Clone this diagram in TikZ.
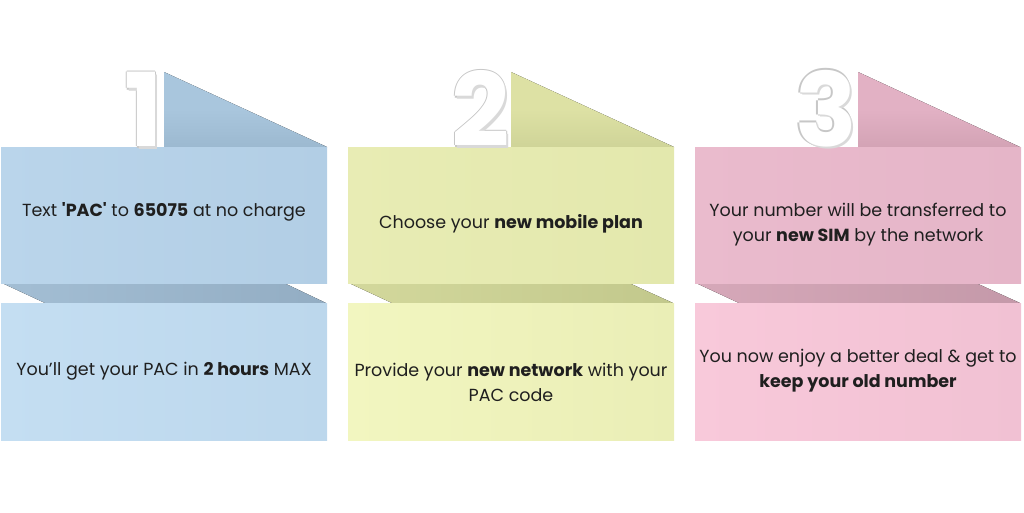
\documentclass[tikz,border=0pt]{standalone}
\usepackage{fontspec}
\setmainfont{Poppins}[Ligatures=TeXOff]
\newfontfamily\digitfont{Poppins}
\begin{document}
\begin{tikzpicture}[x=1pt,y=-1pt,
  box/.style={draw=none,minimum width=326pt,minimum height=136pt,inner sep=0pt,anchor=north west},
  txt/.style={text=black!88,align=center,font=\fontsize{17.5}{25}\selectfont,inner sep=0pt},
  digit/.style={font=\digitfont\bfseries\fontsize{102}{102}\selectfont,inner sep=0pt,anchor=south east}]
\useasboundingbox (0,0) rectangle (1024,512);
\newcommand\puffdigit[3]{% #1 position, #2 digit, #3 name
  \foreach \dx/\dy in {-1.3/0,1.3/0,0/-1.3,0/1.3}
    \node[digit,text=black!22] at ([shift={(\dx,\dy)}]#1) {#2};
  \node[digit,text=black!15] at ([shift={(2.2,2.2)}]#1) {#2};
  \node[digit,text=white] (#3) at (#1) {#2};
}
\definecolor{bA}{HTML}{BAD5EB}\definecolor{bB}{HTML}{B2CEE5}
\definecolor{bC}{HTML}{C4DEF2}\definecolor{bD}{HTML}{BCD7EC}
\definecolor{bT}{HTML}{A9C6DD}\definecolor{bTd}{HTML}{9CB9D0}
\definecolor{bF}{HTML}{A3BED4}\definecolor{bFd}{HTML}{93ADC3}
\definecolor{gA}{HTML}{E8ECB4}\definecolor{gB}{HTML}{E3E8AD}
\definecolor{gC}{HTML}{F2F6C0}\definecolor{gD}{HTML}{EAEEB6}
\definecolor{gT}{HTML}{DDE1A4}\definecolor{gTd}{HTML}{CFD498}
\definecolor{gF}{HTML}{D3D89C}\definecolor{gFd}{HTML}{C2C88C}
\definecolor{pA}{HTML}{EABBCD}\definecolor{pB}{HTML}{E5B5C8}
\definecolor{pC}{HTML}{F8C9DA}\definecolor{pD}{HTML}{F1C1D3}
\definecolor{pT}{HTML}{E2B1C4}\definecolor{pTd}{HTML}{D3A3B5}
\definecolor{pF}{HTML}{D6A8B9}\definecolor{pFd}{HTML}{C499A9}

% ---------- panel 1 ----------
\fill[top color=bT,bottom color=bTd,middle color=bT] (164,72) -- (327,147) -- (164,147) -- cycle;
\fill[left color=bF,right color=bFd] (2,283) -- (284,283) -- (326,303) -- (45,303) -- cycle;
\node[box,left color=bA,right color=bB] (t1) at (1,147) {};
\node[box,left color=bC,right color=bD,minimum height=137pt] (u1) at (1,303) {};
\puffdigit{163,147}{1}{d1}
\node[txt] (x1) at (164,212) {Text \textbf{'PAC'} to \textbf{65075} at no charge};
\node[txt] (y1) at (164,371) {You’ll get your PAC in \textbf{2 hours} MAX};

% ---------- panel 2 ----------
\fill[top color=gT,bottom color=gTd,middle color=gT] (511,72) -- (674,147) -- (511,147) -- cycle;
\fill[left color=gF,right color=gFd] (349,283) -- (629,283) -- (673,303) -- (392,303) -- cycle;
\node[box,left color=gA,right color=gB] (t2) at (348,147) {};
\node[box,left color=gC,right color=gD,minimum height=137pt] (u2) at (348,303) {};
\puffdigit{510,147}{2}{d2}
\node[txt] (x2) at (511,224) {Choose your \textbf{new mobile plan}};
\node[txt] (y2) at (511,382) {Provide your \textbf{new network} with your\\PAC code};

% ---------- panel 3 ----------
\fill[top color=pT,bottom color=pTd,middle color=pT] (858,72) -- (1020,147) -- (858,147) -- cycle;
\fill[left color=pF,right color=pFd] (696,283) -- (976,283) -- (1020,303) -- (739,303) -- cycle;
\node[box,left color=pA,right color=pB] (t3) at (695,147) {};
\node[box,left color=pC,right color=pD,minimum height=137pt] (u3) at (695,303) {};
\puffdigit{857,147}{3}{d3}
\node[txt] (x3) at (858,225) {Your number will be transferred to\\your \textbf{new SIM} by the network};
\node[txt] (y3) at (858,371) {You now enjoy a better deal \& get to\\\textbf{keep your old number}};
\end{tikzpicture}
\end{document}
